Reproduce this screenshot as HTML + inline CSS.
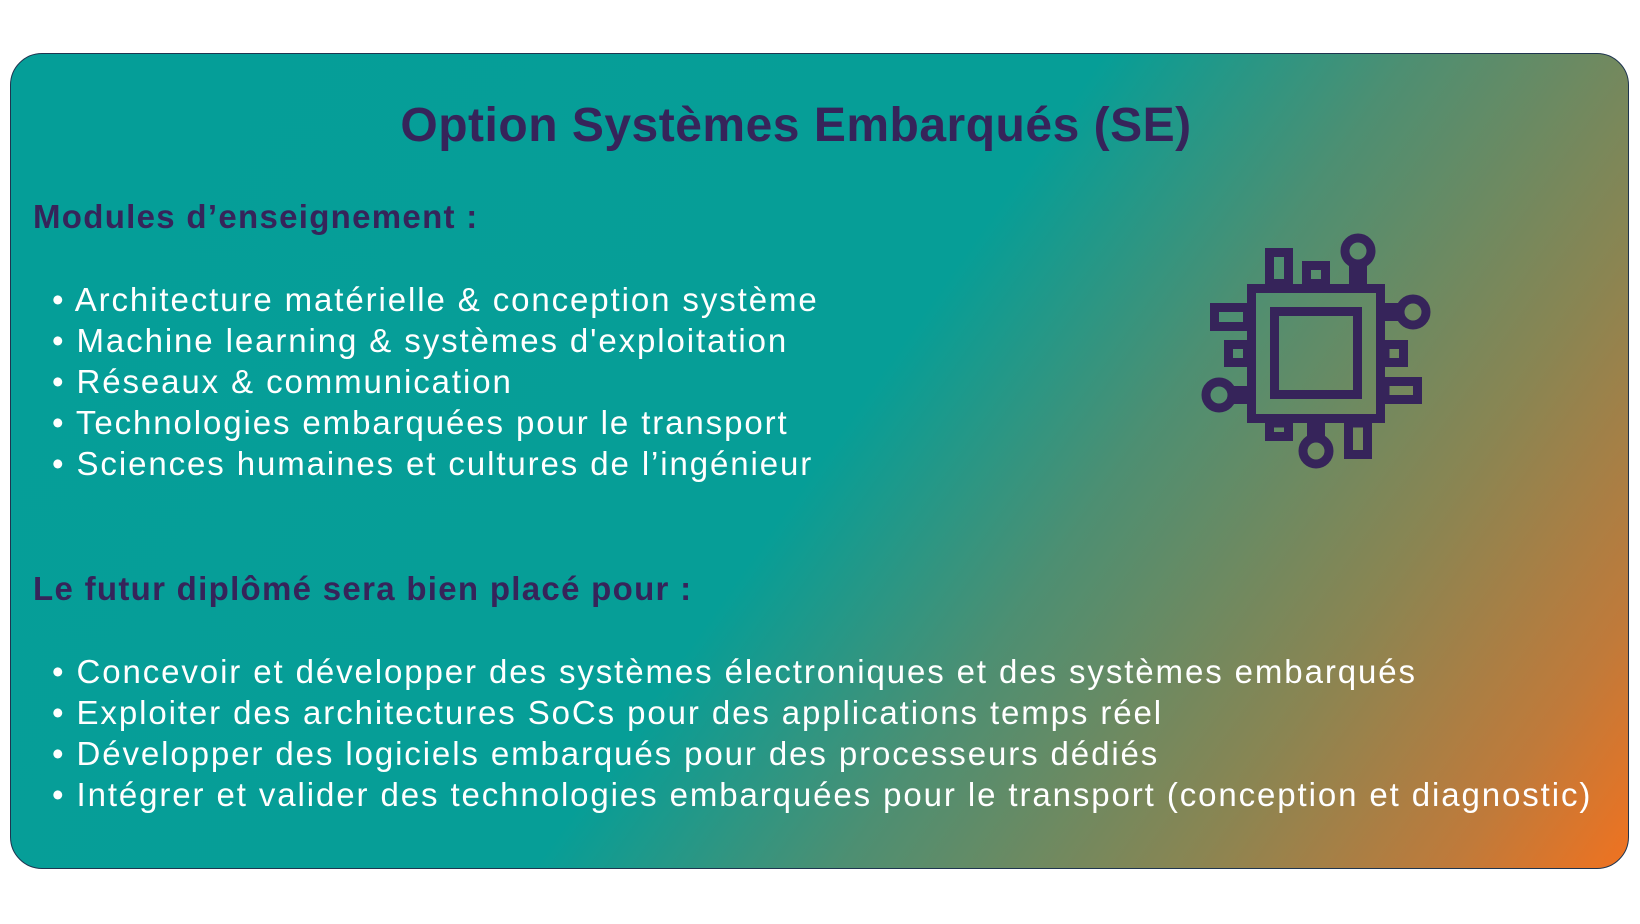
<!DOCTYPE html>
<html><head><meta charset="utf-8"><style>
html,body{margin:0;padding:0;width:1640px;height:924px;background:#fff;overflow:hidden;font-family:"Liberation Sans",sans-serif}
#card{position:absolute;left:10px;top:53px;width:1619px;height:816px;border-radius:32px;border:1px solid #1f3550;box-sizing:border-box;
background:linear-gradient(125deg,#059e98 0%,#069e97 50%,#4d8f72 64%,#8a8552 80%,#c07a3a 92%,#f07220 100%);}
.t{position:absolute;white-space:nowrap}
#title{left:0;width:1592px;text-align:center;top:98px;font-size:48px;font-weight:bold;color:#36245a;letter-spacing:0.5px}
.h{left:33px;font-size:33px;font-weight:bold;color:#36245a;letter-spacing:1.3px}
.li{left:52px;font-size:33px;color:#fff;letter-spacing:1.9px}
</style></head><body>
<div id="card"></div>
<div class="t" id="title">Option Systèmes Embarqués (SE)</div>
<div class="t h" style="top:198px">Modules d’enseignement :</div>
<div class="t li" style="top:281px">• Architecture matérielle &amp; conception système</div>
<div class="t li" style="top:322px">• Machine learning &amp; systèmes d'exploitation</div>
<div class="t li" style="top:363px">• Réseaux &amp; communication</div>
<div class="t li" style="top:404px">• Technologies embarquées pour le transport</div>
<div class="t li" style="top:445px">• Sciences humaines et cultures de l’ingénieur</div>
<div class="t h" style="top:570px">Le futur diplômé sera bien placé pour :</div>
<div class="t li" style="top:653px">• Concevoir et développer des systèmes électroniques et des systèmes embarqués</div>
<div class="t li" style="top:694px">• Exploiter des architectures SoCs pour des applications temps réel</div>
<div class="t li" style="top:735px">• Développer des logiciels embarqués pour des processeurs dédiés</div>
<div class="t li" style="top:776px">• Intégrer et valider des technologies embarquées pour le transport (conception et diagnostic)</div>
<svg style="position:absolute;left:0;top:0" width="1640" height="924">
<g fill="none" stroke="#36245a" stroke-width="9">
<rect x="1251.5" y="288.5" width="129" height="130"/>
<rect x="1274.5" y="311.5" width="83" height="83"/>
<rect x="1269.5" y="252.5" width="19" height="31"/>
<rect x="1306.5" y="265.5" width="19" height="18"/>
<line x1="1358" y1="266" x2="1358" y2="284" stroke-width="18"/>
<circle cx="1358" cy="251" r="13"/>
<line x1="1385" y1="312" x2="1400" y2="312" stroke-width="18"/>
<circle cx="1413" cy="312" r="13"/>
<rect x="1385" y="344.5" width="18.5" height="18"/>
<rect x="1385" y="381.5" width="32.5" height="18"/>
<rect x="1214.5" y="307.5" width="33" height="19"/>
<rect x="1228.5" y="344.5" width="19" height="18"/>
<line x1="1232" y1="395" x2="1247" y2="395" stroke-width="18"/>
<circle cx="1219" cy="395" r="13"/>
<rect x="1269.5" y="423" width="19" height="13.5"/>
<line x1="1316" y1="423" x2="1316" y2="438" stroke-width="18"/>
<circle cx="1316" cy="451" r="13"/>
<rect x="1348.5" y="423" width="19" height="31.5"/>
</g></svg>
</body></html>
